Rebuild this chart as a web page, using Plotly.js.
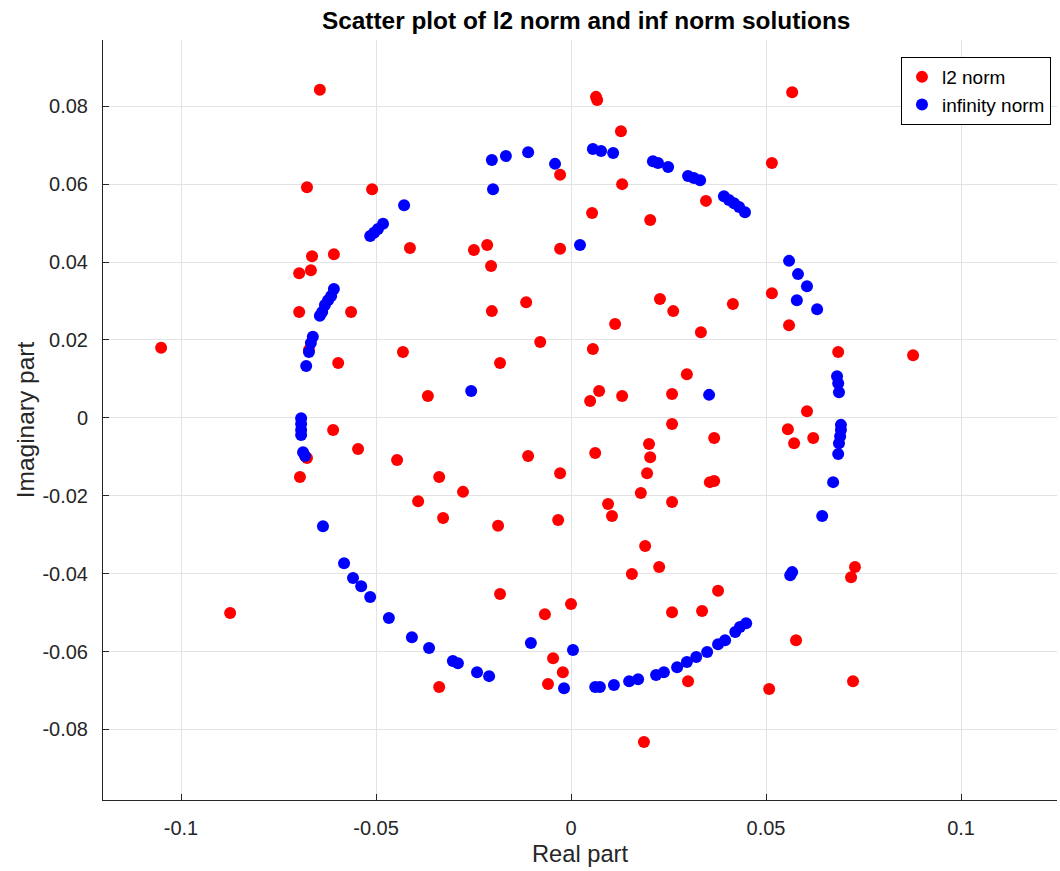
<!DOCTYPE html>
<html>
<head>
<meta charset="utf-8">
<script src="https://cdn.plot.ly/plotly-3.0.1.min.js"></script>
<style>html,body{margin:0;padding:0;background:#fff}#chart{width:1060px;height:871px}</style>
</head>
<body>
<div id="chart"></div>
<script>
// l2 norm solutions (red)
const l2Real = [-0.0644,-0.0677,-0.0510,0.0064,0.0067,0.0128,0.0567,0.0515,-0.0028,0.0131,0.0346,0.0054,0.0203,-0.0215,-0.0249,-0.0028,-0.0413,-0.0608,-0.0664,-0.0697,-0.0667,-0.0205,-0.0697,-0.0564,-0.0203,-0.0115,0.0228,0.0262,0.0415,0.0515,0.0559,0.0113,0.0333,-0.0079,0.0056,-0.0182,-0.0431,-0.0597,-0.0672,0.0685,0.0877,0.0297,0.0072,-0.0367,0.0049,0.0131,0.0259,0.0605,-0.1051,-0.0610,0.0556,0.0572,0.0621,0.0259,0.0367,0.0200,0.0203,0.0062,-0.0110,-0.0546,-0.0677,-0.0446,-0.0695,-0.0338,-0.0028,0.0195,0.0356,0.0367,0.0179,-0.0277,-0.0392,-0.0328,0.0095,0.0105,0.0259,-0.0033,-0.0187,0.0190,0.0156,0.0226,0.0377,0.0728,0.0718,-0.0182,-0.0874,0.0000,-0.0067,0.0259,0.0336,0.0577,-0.0046,-0.0021,-0.0059,-0.0338,0.0300,0.0508,0.0723,0.0187];
const l2Imag = [0.0842,0.0592,0.0587,0.0824,0.0816,0.0736,0.0836,0.0654,0.0624,0.0600,0.0557,0.0526,0.0508,0.0444,0.0431,0.0434,0.0436,0.0420,0.0415,0.0371,0.0379,0.0390,0.0272,0.0272,0.0274,0.0297,0.0305,0.0274,0.0292,0.0320,0.0238,0.0241,0.0220,0.0195,0.0177,0.0141,0.0169,0.0141,0.0174,0.0169,0.0161,0.0112,0.0069,0.0056,0.0043,0.0056,0.0061,0.0017,0.0180,-0.0031,-0.0029,-0.0065,-0.0052,-0.0016,-0.0052,-0.0067,-0.0101,-0.0090,-0.0098,-0.0080,-0.0103,-0.0108,-0.0152,-0.0152,-0.0142,-0.0142,-0.0165,-0.0162,-0.0193,-0.0190,-0.0214,-0.0257,-0.0221,-0.0252,-0.0216,-0.0262,-0.0277,-0.0329,-0.0401,-0.0383,-0.0444,-0.0383,-0.0409,-0.0452,-0.0501,-0.0478,-0.0504,-0.0499,-0.0496,-0.0571,-0.0617,-0.0653,-0.0683,-0.0691,-0.0676,-0.0696,-0.0676,-0.0832];

// infinity norm solutions (blue)
const infReal = [-0.0428,-0.0482,-0.0495,-0.0505,-0.0515,-0.0203,-0.0167,-0.0110,-0.0200,-0.0041,0.0023,0.0056,0.0077,0.0108,0.0210,0.0223,0.0249,0.0300,0.0315,0.0331,0.0392,0.0405,0.0418,0.0431,0.0446,0.0559,0.0582,0.0605,0.0579,0.0631,0.0682,0.0685,0.0687,0.0692,0.0692,0.0690,0.0687,0.0685,0.0672,0.0644,0.0562,0.0567,0.0449,0.0433,0.0421,0.0395,0.0377,0.0349,0.0321,0.0297,0.0272,0.0238,0.0218,0.0172,0.0149,0.0110,0.0074,0.0062,-0.0018,0.0005,-0.0103,-0.0210,-0.0241,-0.0290,-0.0303,-0.0364,-0.0408,-0.0467,-0.0515,-0.0538,-0.0559,-0.0582,-0.0636,-0.0692,-0.0692,-0.0692,-0.0692,-0.0687,-0.0682,-0.0679,-0.0672,-0.0667,-0.0662,-0.0644,-0.0638,-0.0631,-0.0623,-0.0615,-0.0608,-0.0256,0.0354];
const infImag = [0.0546,0.0498,0.0485,0.0475,0.0467,0.0662,0.0672,0.0682,0.0587,0.0652,0.0444,0.0690,0.0685,0.0680,0.0659,0.0654,0.0644,0.0621,0.0616,0.0610,0.0569,0.0559,0.0551,0.0541,0.0528,0.0403,0.0369,0.0338,0.0302,0.0279,0.0107,0.0089,0.0066,-0.0018,-0.0031,-0.0047,-0.0065,-0.0093,-0.0165,-0.0252,-0.0404,-0.0396,-0.0527,-0.0537,-0.0550,-0.0571,-0.0581,-0.0601,-0.0614,-0.0627,-0.0640,-0.0653,-0.0660,-0.0671,-0.0676,-0.0686,-0.0691,-0.0691,-0.0694,-0.0596,-0.0578,-0.0663,-0.0653,-0.0630,-0.0624,-0.0591,-0.0563,-0.0514,-0.0460,-0.0432,-0.0411,-0.0373,-0.0278,-0.0001,-0.0016,-0.0031,-0.0044,-0.0088,-0.0098,0.0133,0.0169,0.0192,0.0208,0.0262,0.0272,0.0290,0.0302,0.0313,0.0331,0.0069,0.0059];

const xTicks = [-0.1,-0.05,0,0.05,0.1];
const xTickText = ['-0.1','-0.05','0','0.05','0.1'];
const yTicks = [-0.08,-0.06,-0.04,-0.02,0,0.02,0.04,0.06,0.08];
const yTickText = ['-0.08','-0.06','-0.04','-0.02','0','0.02','0.04','0.06','0.08'];

const FONT = '"Liberation Sans", Arial, Helvetica, sans-serif';
const AX = '#262626';

const traces = [
  {x: l2Real, y: l2Imag, type: 'scatter', mode: 'markers', name: 'l2 norm',
   marker: {color: '#ff0000', size: 12}},
  {x: infReal, y: infImag, type: 'scatter', mode: 'markers', name: 'infinity norm',
   marker: {color: '#0000ff', size: 12}}
];

const layout = {
  width: 1060, height: 871,
  margin: {l: 103, r: 3, t: 40, b: 71},
  paper_bgcolor: '#fff', plot_bgcolor: '#fff',
  font: {family: FONT, color: AX},
  title: {text: '<b>Scatter plot of l2 norm and inf norm solutions</b>',
          font: {family: FONT, size: 24.4, color: '#000'},
          x: 0.553, xanchor: 'center', y: 0.976, yanchor: 'middle'},
  xaxis: {range: [-0.12, 0.1246], tickvals: xTicks, ticktext: xTickText,
          ticks: 'inside', ticklen: 6, tickcolor: AX, showline: true, linecolor: AX, linewidth: 1,
          showgrid: true, gridcolor: '#e3e3e3', zeroline: false,
          tickfont: {size: 20, color: AX}, ticklabelstandoff: 10,
          title: {text: 'Real part', font: {size: 23.7, color: AX}, standoff: 7}},
  yaxis: {range: [-0.0981, 0.097], tickvals: yTicks, ticktext: yTickText,
          ticks: 'inside', ticklen: 6, tickcolor: AX, showline: true, linecolor: AX, linewidth: 1,
          showgrid: true, gridcolor: '#e3e3e3', zeroline: false,
          tickfont: {size: 20, color: AX}, ticklabelstandoff: 10,
          title: {text: 'Imaginary part', font: {size: 24.5, color: AX}, standoff: 0}},
  showlegend: true,
  legend: {x: 0.9937, y: 0.9776, xanchor: 'right', yanchor: 'top',
           bgcolor: '#fff', bordercolor: '#000', borderwidth: 1,
           font: {size: 19, color: '#000'}}
};

Plotly.newPlot('chart', traces, layout, {displayModeBar: false, responsive: false});
</script>
</body>
</html>
